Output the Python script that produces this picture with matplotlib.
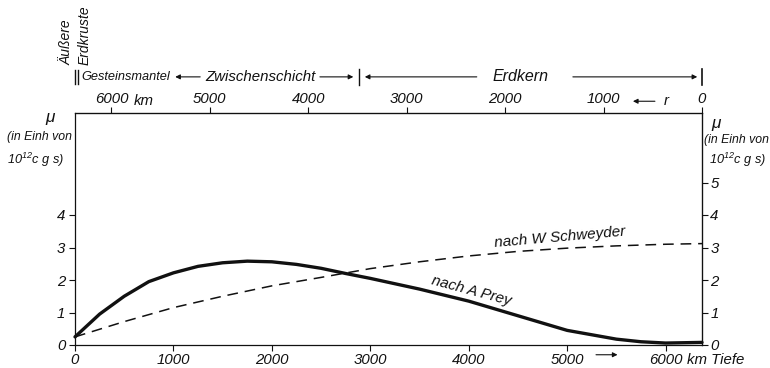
import matplotlib
matplotlib.use("Agg")
import matplotlib.pyplot as plt

R_EARTH = 6370  # km

# Schubmodul mu (10^12 cgs) gegen Tiefe (km)
depth_prey = [0, 250, 500, 750, 1000, 1250, 1500, 1750, 2000, 2250, 2500,
              2750, 3000, 3500, 4000, 4500, 5000, 5500, 5750, 6000, 6370]
mu_prey = [0.25, 0.95, 1.5, 1.95, 2.22, 2.42, 2.53, 2.58, 2.56, 2.48, 2.36,
           2.2, 2.05, 1.72, 1.35, 0.9, 0.45, 0.18, 0.1, 0.06, 0.08]

depth_schw = [0, 500, 1000, 1500, 2000, 2500, 3000, 3500, 4000, 4500,
              5000, 5500, 6000, 6370]
mu_schw = [0.25, 0.72, 1.15, 1.5, 1.82, 2.08, 2.35, 2.56, 2.74, 2.88,
           2.98, 3.05, 3.1, 3.12]

depth_ticks = [0, 1000, 2000, 3000, 4000, 5000, 6000]
r_ticks = [6000, 5000, 4000, 3000, 2000, 1000, 0]
mu_ticks_left = [0, 1, 2, 3, 4]
mu_ticks_right = [0, 1, 2, 3, 4, 5]

# Schichtgrenzen (Tiefe in km)
crust_bars = [0, 35]
mantle_end = 970
core_top = 2886

FONT = "Liberation Sans"
plt.rcParams["font.family"] = [FONT, "DejaVu Sans"]
plt.rcParams["font.style"] = "italic"
plt.rcParams["mathtext.fontset"] = "custom"
plt.rcParams["mathtext.it"] = FONT + ":italic"
plt.rcParams["mathtext.rm"] = FONT + ":italic"
plt.rcParams["mathtext.default"] = "it"

INK = "#111111"
FS = 10.8

fig = plt.figure(figsize=(7.7, 3.68), dpi=100)
ax = fig.add_axes([75 / 770, 23 / 368, 627 / 770, 232 / 368])
ax.set_xlim(0, R_EARTH)
ax.set_ylim(0, 232 / 32.5)

ax.plot(depth_prey, mu_prey, color=INK, lw=2.4, solid_capstyle="round", clip_on=False)
ax.plot(depth_schw, mu_schw, color=INK, lw=1.1, dashes=(7, 4.5), clip_on=False)

for s in ax.spines.values():
    s.set_linewidth(0.9)
    s.set_color(INK)

ax.set_xticks(depth_ticks)
ax.set_xticklabels([str(d) for d in depth_ticks])
ax.set_yticks(mu_ticks_left)
ax.set_yticklabels([str(m) for m in mu_ticks_left])
ax.tick_params(axis="x", direction="out", length=4, width=0.8, pad=2, labelsize=FS, colors=INK)
ax.tick_params(axis="y", direction="out", length=4, width=0.8, pad=3, labelsize=FS, colors=INK)

top = ax.secondary_xaxis("top", functions=(lambda d: R_EARTH - d, lambda r: R_EARTH - r))
top.set_xticks(r_ticks)
top.set_xticklabels([str(r) for r in r_ticks])
top.tick_params(direction="out", length=4, width=0.8, pad=1, labelsize=FS, colors=INK)

right = ax.secondary_yaxis("right")
right.set_yticks(mu_ticks_right)
right.set_yticklabels([str(m) for m in mu_ticks_right])
right.tick_params(direction="out", length=4, width=0.8, pad=2, labelsize=FS, colors=INK)

# Einheiten an den Achsen
ax.text(6220, -0.47, "km Tiefe", fontsize=FS, ha="left", va="center", color=INK)
ax.text(600, 7.5, "km", fontsize=FS, ha="left", va="center", color=INK)
ax.annotate("", xy=(5540, -0.3), xytext=(5265, -0.3), annotation_clip=False,
            arrowprops=dict(arrowstyle="-|>", color=INK, lw=0.8, mutation_scale=7))
ax.annotate("", xy=(5640, 7.5), xytext=(5920, 7.5), annotation_clip=False,
            arrowprops=dict(arrowstyle="-|>", color=INK, lw=0.8, mutation_scale=7))
ax.text(5980, 7.5, "r", fontsize=FS, ha="left", va="center", color=INK)

# Achsenbeschriftung mu
unit_l = ["\u03bc", "(in Einh von", "10$^{12}$c g s)"]
ax.text(-255, 7.0, unit_l[0], fontsize=FS + 1.5, ha="center", va="center", color=INK)
ax.text(-360, 6.4, unit_l[1], fontsize=8.8, ha="center", va="center", color=INK)
ax.text(-400, 5.69, unit_l[2], fontsize=9.2, ha="center", va="center", color=INK)
ax.text(6510, 6.82, unit_l[0], fontsize=FS + 1.5, ha="center", va="center", color=INK)
ax.text(6370 + 20, 6.31, unit_l[1], fontsize=8.8, ha="left", va="center", color=INK)
ax.text(6440, 5.69, unit_l[2], fontsize=9.2, ha="left", va="center", color=INK)

# Kurvenbeschriftungen
ax.text(4930, 3.32, "nach W Schweyder", fontsize=11, rotation=5,
        ha="center", va="center", color=INK, rotation_mode="anchor")
ax.text(4030, 1.66, "nach A Prey", fontsize=11, rotation=-15,
        ha="center", va="center", color=INK, rotation_mode="anchor")

# Schalenaufbau der Erde
yl = 8.25
for d in crust_bars:
    ax.plot([d, d], [yl - 0.22, yl + 0.22], color=INK, lw=1.0, clip_on=False)
ax.text(60, yl, "Gesteinsmantel", fontsize=9.2, ha="left", va="center", color=INK)
ax.annotate("", xy=(mantle_end + 20, yl), xytext=(1300, yl), annotation_clip=False,
            arrowprops=dict(arrowstyle="-|>", color=INK, lw=0.8, mutation_scale=7))
ax.text(1880, yl, "Zwischenschicht", fontsize=10.8, ha="center", va="center", color=INK)
ax.annotate("", xy=(core_top - 30, yl), xytext=(2460, yl), annotation_clip=False,
            arrowprops=dict(arrowstyle="-|>", color=INK, lw=0.8, mutation_scale=7))
ax.plot([core_top, core_top], [yl - 0.25, yl + 0.25], color=INK, lw=1.0, clip_on=False)
ax.annotate("", xy=(core_top + 30, yl), xytext=(4110, yl), annotation_clip=False,
            arrowprops=dict(arrowstyle="-|>", color=INK, lw=0.8, mutation_scale=7))
ax.text(4530, yl, "Erdkern", fontsize=11.5, ha="center", va="center", color=INK)
ax.annotate("", xy=(R_EARTH - 20, yl), xytext=(5030, yl), annotation_clip=False,
            arrowprops=dict(arrowstyle="-|>", color=INK, lw=0.8, mutation_scale=7))
ax.plot([R_EARTH, R_EARTH], [yl - 0.25, yl + 0.25], color=INK, lw=1.2, clip_on=False)

ax.text(-90, 8.62, "\u00c4u\u00dfere", fontsize=10, rotation=90,
        ha="center", va="bottom", color=INK)
ax.text(95, 8.62, "Erdkruste", fontsize=10, rotation=90,
        ha="center", va="bottom", color=INK)

fig.savefig("out.png", dpi=100, facecolor="white")
